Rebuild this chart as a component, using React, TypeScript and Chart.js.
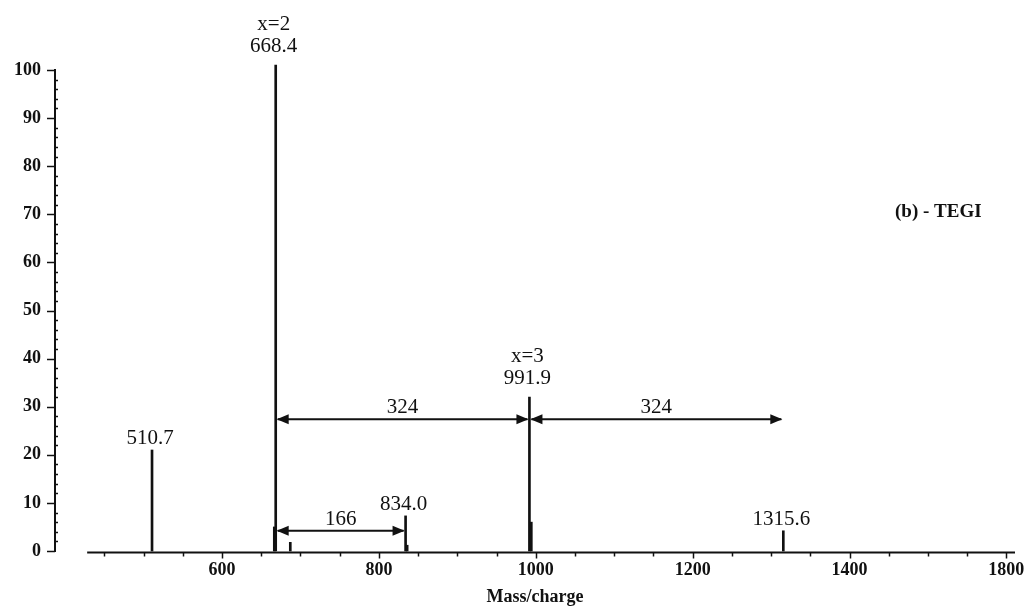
import React, { useEffect, useRef } from "react";
import { Chart, registerables } from "chart.js";

Chart.register(...registerables);

// ---- data ----
const peakMz = [510.7, 666.6, 668.4, 687.0, 834.0, 836.0, 991.9, 994.3, 1315.6];
const peakIntensity = [21, 5, 101, 1.8, 7.3, 1.2, 32, 6, 4.2];

const labelMz = [668.4, 991.9, 510.7, 834.0, 1315.6];
const labelIntensity = [101, 32, 21, 7.3, 4.2];
const labelLines = [["x=2", "668.4"], ["x=3", "991.9"], ["510.7"], ["834.0"], ["1315.6"]];

const arrowFrom = [668.4, 991.9, 668.4];
const arrowTo = [991.9, 1315.6, 834.0];
const arrowLevel = [27.4, 27.4, 4.2];
const arrowText = ["324", "324", "166"];

const xTickValues = [600, 800, 1000, 1200, 1400, 1600];
const xTickLabels = ["600", "800", "1000", "1200", "1400", "1800"];
const yTickValues = [0, 10, 20, 30, 40, 50, 60, 70, 80, 90, 100];

const X_MIN = 387;
const X_MAX = 1611;
const AXIS_START = 428;
const sampleNote = "(b) - TEGI";
const noteMz = 1458;
const noteLevel = 70.5;

const INK = "#111111";
const SERIF = "'Liberation Serif', 'Times New Roman', serif";

const decorPlugin = {
  id: "spectrumDecor",
  afterDatasetsDraw(chart: any) {
    const { ctx, chartArea, scales } = chart;
    const x = scales.x;
    const y = scales.y;
    ctx.save();
    ctx.strokeStyle = INK;
    ctx.fillStyle = INK;
    ctx.lineCap = "butt";

    // y axis line
    const left = chartArea.left;
    ctx.lineWidth = 2;
    ctx.beginPath();
    ctx.moveTo(left, y.getPixelForValue(100) - 1);
    ctx.lineTo(left, y.getPixelForValue(0) + 1);
    ctx.stroke();
    // y ticks
    ctx.lineWidth = 1.5;
    for (let v = 0; v <= 100; v += 2) {
      const py = Math.round(y.getPixelForValue(v)) + 0.5;
      ctx.beginPath();
      if (v % 10 === 0) {
        ctx.moveTo(left - 8, py);
        ctx.lineTo(left, py);
      } else {
        ctx.moveTo(left, py);
        ctx.lineTo(left + 3, py);
      }
      ctx.stroke();
    }

    // x baseline
    const by = y.getPixelForValue(0) + 1.5;
    ctx.lineWidth = 2;
    ctx.beginPath();
    ctx.moveTo(x.getPixelForValue(AXIS_START), by);
    ctx.lineTo(chartArea.right, by);
    ctx.stroke();
    ctx.lineWidth = 1.5;
    for (let v = 450; v <= 1600; v += 50) {
      const px = Math.round(x.getPixelForValue(v)) + 0.5;
      const len = v % 200 === 0 ? 6 : 4;
      ctx.beginPath();
      ctx.moveTo(px, by);
      ctx.lineTo(px, by + len);
      ctx.stroke();
    }

    // peak labels
    ctx.font = `21px ${SERIF}`;
    ctx.textAlign = "center";
    ctx.textBaseline = "alphabetic";
    labelMz.forEach((m, i) => {
      const lines = labelLines[i];
      const px = x.getPixelForValue(m) - 2;
      const top = y.getPixelForValue(labelIntensity[i]);
      const gap = lines.length > 1 ? 13 : 6;
      let baseY = top - gap;
      for (let k = lines.length - 1; k >= 0; k--) {
        ctx.fillText(lines[k], px, baseY);
        baseY -= 22;
      }
    });

    // arrows
    arrowFrom.forEach((m1, i) => {
      const x1 = x.getPixelForValue(m1);
      const x2 = x.getPixelForValue(arrowTo[i]);
      const py = y.getPixelForValue(arrowLevel[i]);
      ctx.lineWidth = 2;
      ctx.beginPath();
      ctx.moveTo(x1 + 2, py);
      ctx.lineTo(x2 - 2, py);
      ctx.stroke();
      const head = 12;
      const half = 5;
      ctx.beginPath();
      ctx.moveTo(x1 + 1, py);
      ctx.lineTo(x1 + 1 + head, py - half);
      ctx.lineTo(x1 + 1 + head, py + half);
      ctx.closePath();
      ctx.fill();
      ctx.beginPath();
      ctx.moveTo(x2 - 1, py);
      ctx.lineTo(x2 - 1 - head, py - half);
      ctx.lineTo(x2 - 1 - head, py + half);
      ctx.closePath();
      ctx.fill();
      ctx.textAlign = "center";
      ctx.fillText(arrowText[i], (x1 + x2) / 2, py - 6);
    });

    // sample note
    ctx.font = `bold 19px ${SERIF}`;
    ctx.textAlign = "left";
    ctx.textBaseline = "middle";
    ctx.fillText(sampleNote, x.getPixelForValue(noteMz), y.getPixelForValue(noteLevel));

    ctx.restore();
  },
};

export default function App() {
  const canvasRef = useRef<HTMLCanvasElement | null>(null);

  useEffect(() => {
    document.body.style.margin = "0";
    const canvas = canvasRef.current;
    if (!canvas) return;
    const chart = new Chart(canvas, {
      type: "bar",
      data: {
        datasets: [
          {
            label: "TEGI",
            data: peakMz.map((m, i) => ({ x: m, y: peakIntensity[i] })),
            backgroundColor: INK,
            borderWidth: 0,
            barThickness: 2,
            clip: false as any,
          },
        ],
      },
      options: {
        animation: false,
        responsive: true,
        maintainAspectRatio: false,
        layout: { padding: { top: 70, right: 21, left: 0, bottom: 0 } },
        plugins: {
          legend: { display: false },
          tooltip: { enabled: false },
        },
        scales: {
          x: {
            type: "linear",
            min: X_MIN,
            max: X_MAX,
            offset: false,
            grid: { display: false, drawTicks: false },
            border: { display: false },
            afterBuildTicks: (scale: any) => {
              scale.ticks = xTickValues.map((v) => ({ value: v }));
            },
            afterFit: (scale: any) => {
              scale.height = 60;
            },
            ticks: {
              autoSkip: false,
              maxRotation: 0,
              padding: 9,
              color: INK,
              font: { family: SERIF, size: 18, weight: "bold" },
              callback: (value: any) => {
                const idx = xTickValues.indexOf(Number(value));
                return idx >= 0 ? xTickLabels[idx] : "";
              },
            },
            title: {
              display: true,
              text: "Mass/charge",
              color: INK,
              font: { family: SERIF, size: 18, weight: "bold" },
              padding: { top: 0, bottom: 3 },
            },
          },
          y: {
            type: "linear",
            min: 0,
            max: 100,
            grid: { display: false, drawTicks: false },
            border: { display: false },
            afterBuildTicks: (scale: any) => {
              scale.ticks = yTickValues.map((v) => ({ value: v }));
            },
            afterFit: (scale: any) => {
              scale.width = 55;
            },
            ticks: {
              padding: 14,
              color: INK,
              font: { family: SERIF, size: 18, weight: "bold" },
            },
          },
        },
      },
      plugins: [decorPlugin],
    });
    return () => chart.destroy();
  }, []);

  return (
    <div style={{ position: "fixed", left: 0, top: 0, width: 1036, height: 611, background: "#fff" }}>
      <canvas ref={canvasRef} />
    </div>
  );
}
